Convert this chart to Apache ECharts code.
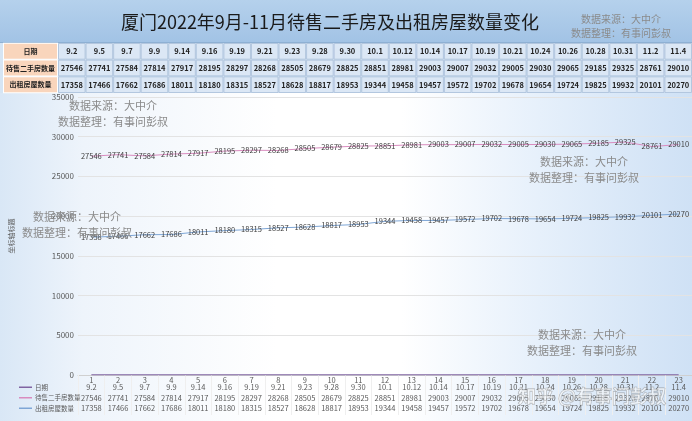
<!DOCTYPE html>
<html>
<head>
<meta charset="utf-8">
<script src="https://cdn.jsdelivr.net/npm/echarts@6/dist/echarts.min.js"></script>
<style>
html,body{margin:0;padding:0;}
body{width:692px;height:421px;overflow:hidden;position:relative;
background:linear-gradient(to right,#d9e7f6 0%,#eef4fb 12%,#ffffff 40%,#ffffff 58%,#e6f0fb 78%,#cfe1f5 100%);}
#band{position:absolute;left:0;top:0;width:692px;height:42px;background:linear-gradient(#b5d1ec,#a2c3e5);border-bottom:1px solid #8eb0d3;}
#tblbg{position:absolute;left:0;top:43px;width:692px;height:50px;background:#d6e5f4;}
#chart{position:absolute;left:0;top:0;width:692px;height:421px;}
</style>
</head>
<body>
<div id="band"></div>
<div id="tblbg"></div>
<div id="chart"></div>
<script>
const titleText = '厦门2022年9月-11月待售二手房及出租房屋数量变化';
const indices = ['1','2','3','4','5','6','7','8','9','10','11','12','13','14','15','16','17','18','19','20','21','22','23'];
const dates = ['9.2','9.5','9.7','9.9','9.14','9.16','9.19','9.21','9.23','9.28','9.30','10.1','10.12','10.14','10.17','10.19','10.21','10.24','10.26','10.28','10.31','11.2','11.4'];
const forSale = [27546,27741,27584,27814,27917,28195,28297,28268,28505,28679,28825,28851,28981,29003,29007,29032,29005,29030,29065,29185,29325,28761,29010];
const forRent = [17358,17466,17662,17686,18011,18180,18315,18527,18628,18817,18953,19344,19458,19457,19572,19702,19678,19654,19724,19825,19932,20101,20270];
const rowNames = ['日期','待售二手房数量','出租房屋数量'];
const yTicks = {min:0,max:35000,interval:5000};
const wm1 = '数据来源：大中介';
const wm2 = '数据整理：有事问彭叔';

const tableRows = [dates, forSale.map(String), forRent.map(String)];
const cellData = [];
const cellText = [];
tableRows.forEach((row, r) => {
  row.forEach((v, c) => { cellData.push([c, r]); cellText.push(v); });
});

const FONT = '"Noto Sans CJK SC", "Noto Sans", sans-serif';
const chart = echarts.init(document.getElementById('chart'));

function wm(x, y, size) {
  return [
    {type:'text', x:x, y:y, style:{text:wm1, fill:'#8a8a8a', font:size+'px '+FONT, textAlign:'center', textVerticalAlign:'middle'}, z:50},
    {type:'text', x:x, y:y+size*1.4, style:{text:wm2, fill:'#8a8a8a', font:size+'px '+FONT, textAlign:'center', textVerticalAlign:'middle'}, z:50}
  ];
}

const lineLabel = {show:true, position:'inside', fontSize:7.5, color:'#404040'};
const rowLabel = {interval:0, fontSize:7.5, color:'#595959', margin:2};

const option = {
  backgroundColor: 'transparent',
  textStyle: {fontFamily: FONT},
  animation: false,
  grid: [
    {left:77, top:97, width:620, height:278},
    {left:55, top:43, width:643, height:50}
  ],
  legend: {
    orient:'vertical', left:19, top:382, padding:0, itemWidth:13, itemHeight:1.5, itemGap:0, icon:'rect',
    textStyle:{fontSize:6.5, color:'#595959', lineHeight:10.5, padding:[0,0,0,-2]},
    data: rowNames
  },
  xAxis: [
    {type:'category', gridIndex:0, data:indices, position:'bottom',
     axisLine:{lineStyle:{color:'#d0d0d0'}}, axisTick:{show:true, length:40, lineStyle:{color:'#efefef'}},
     axisLabel:{interval:0, fontSize:7.5, color:'#595959', margin:1}},
    {type:'category', gridIndex:0, data:dates, position:'bottom', offset:6.5,
     axisLine:{show:false}, axisTick:{show:false}, axisLabel:rowLabel},
    {type:'category', gridIndex:0, data:forSale.map(String), position:'bottom', offset:17,
     axisLine:{show:false}, axisTick:{show:false}, axisLabel:rowLabel},
    {type:'category', gridIndex:0, data:forRent.map(String), position:'bottom', offset:27.5,
     axisLine:{show:false}, axisTick:{show:false}, axisLabel:rowLabel},
    {type:'category', gridIndex:1, data:indices, show:false}
  ],
  yAxis: [
    {type:'value', gridIndex:0, min:yTicks.min, max:yTicks.max, interval:yTicks.interval,
     axisLine:{show:false}, axisTick:{show:false},
     axisLabel:{fontSize:8, color:'#595959', margin:4, formatter: v => String(v)},
     splitLine:{lineStyle:{color:'#e3e3e3'}},
     name:'坐标轴标题', nameLocation:'middle', nameGap:63, nameTextStyle:{fontSize:7, color:'#595959'}},
    {type:'category', gridIndex:1, data:rowNames, inverse:true,
     axisLine:{show:false}, axisTick:{show:false},
     axisLabel:{interval:0, margin:1, formatter: v => '{h|' + v + '}',
       rich:{h:{width:53, height:15, lineHeight:15, align:'center', backgroundColor:'#f9d5bc', borderColor:'#ffffff', borderWidth:1, fontSize:7, fontWeight:'bold', color:'#222'}}}}
  ],
  series: [
    {name:'日期', type:'line', xAxisIndex:0, yAxisIndex:0, data:dates.map(Number), showSymbol:false, symbol:'none',
     lineStyle:{width:1.2, color:'#8064a2'}, itemStyle:{color:'#8064a2'}},
    {name:'待售二手房数量', type:'line', xAxisIndex:0, yAxisIndex:0, data:forSale, showSymbol:true, symbol:'circle', symbolSize:0.1,
     lineStyle:{width:1, color:'#d98cbf'}, itemStyle:{color:'#d98cbf'}, label:lineLabel},
    {name:'出租房屋数量', type:'line', xAxisIndex:0, yAxisIndex:0, data:forRent, showSymbol:true, symbol:'circle', symbolSize:0.1,
     lineStyle:{width:1, color:'#7ea6d6'}, itemStyle:{color:'#7ea6d6'}, label:lineLabel},
    {type:'custom', xAxisIndex:4, yAxisIndex:1, data:cellData, encode:{x:0, y:1},
     renderItem: function(params, api) {
       const p = api.coord([api.value(0), api.value(1)]);
       const s = api.size([1, 1]);
       return {type:'group', children:[
         {type:'rect', shape:{x:p[0]-s[0]/2+0.5, y:p[1]-s[1]/2+0.5, width:s[0]-1, height:s[1]-1},
          style:{fill:'#dbe7f5', stroke:'#aabfd9', lineWidth:0.8}},
         {type:'text', style:{x:p[0], y:p[1], text:cellText[params.dataIndex], fill:'#222', font:'bold 7.5px '+FONT, textAlign:'center', textVerticalAlign:'middle'}}
       ]};
     }}
  ],
  graphic: [
    {type:'text', x:330, y:22, style:{text:titleText, fill:'#1a1a1a', font:'18px '+FONT, textAlign:'center', textVerticalAlign:'middle'}, z:50},
    ...wm(621, 19, 10),
    ...wm(113, 106, 11),
    ...wm(77, 217, 11),
    ...wm(584, 162, 11),
    ...wm(582, 335, 11),
    {type:'text', x:592, y:396, style:{text:'知乎 @有事问彭叔', fill:'rgba(255,255,255,0.55)', stroke:'rgba(120,120,120,0.6)', lineWidth:0.8, font:'bold 18px '+FONT, textAlign:'center', textVerticalAlign:'middle'}, z:60}
  ]
};
chart.setOption(option);
</script>
</body>
</html>
